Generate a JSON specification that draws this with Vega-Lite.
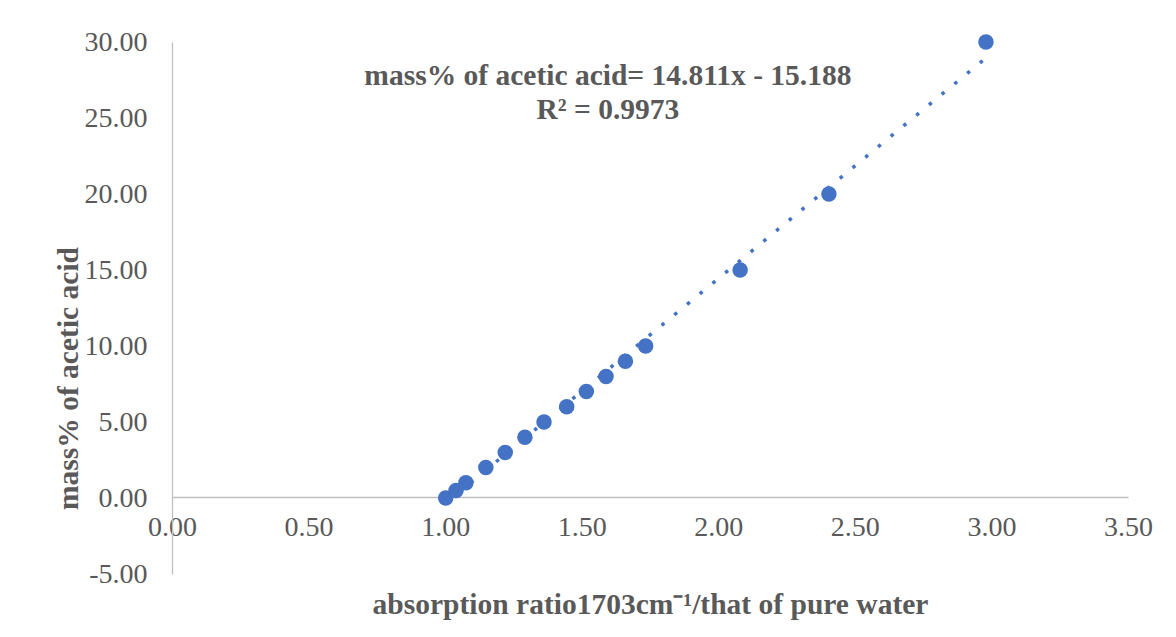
{
  "$schema": "https://vega.github.io/schema/vega-lite/v6.json",
  "width": 956,
  "height": 532,
  "autosize": {"type": "none"},
  "padding": {"left": 172, "top": 42, "right": 48, "bottom": 63},
  "background": "white",
  "config": {
    "view": {"stroke": null},
    "font": "Liberation Serif",
    "axis": {
      "labelFont": "Liberation Serif",
      "labelFontSize": 28,
      "labelColor": "#595959",
      "titleFont": "Liberation Serif",
      "titleFontSize": 29.5,
      "titleFontWeight": "bold",
      "titleColor": "#595959",
      "domainColor": "#bfbfbf",
      "domainWidth": 1.3,
      "ticks": false,
      "grid": false
    }
  },
  "data": {
    "values": [
      {"ratio": 1.002, "mass": 0},
      {"ratio": 1.040, "mass": 0.5},
      {"ratio": 1.076, "mass": 1},
      {"ratio": 1.149, "mass": 2},
      {"ratio": 1.220, "mass": 3},
      {"ratio": 1.292, "mass": 4},
      {"ratio": 1.362, "mass": 5},
      {"ratio": 1.445, "mass": 6},
      {"ratio": 1.517, "mass": 7},
      {"ratio": 1.589, "mass": 8},
      {"ratio": 1.660, "mass": 9},
      {"ratio": 1.734, "mass": 10},
      {"ratio": 2.080, "mass": 15},
      {"ratio": 2.405, "mass": 20},
      {"ratio": 2.980, "mass": 30}
    ]
  },
  "layer": [
    {
      "mark": {"type": "point", "filled": true, "shape": "circle", "size": 240, "color": "#4472C4", "opacity": 1},
      "encoding": {
        "x": {
          "field": "ratio", "type": "quantitative",
          "scale": {"domain": [0, 3.5], "nice": false, "zero": false},
          "axis": {
            "values": [0, 0.5, 1, 1.5, 2, 2.5, 3, 3.5],
            "format": ".2f",
            "offset": -77,
            "labelPadding": 16,
            "labelFlush": false,
            "labelOverlap": false,
            "title": "absorption ratio1703cm⁻¹/that of pure water",
            "titlePadding": 49
          }
        },
        "y": {
          "field": "mass", "type": "quantitative",
          "scale": {"domain": [-5, 30], "nice": false, "zero": false},
          "axis": {
            "values": [-5, 0, 5, 10, 15, 20, 25, 30],
            "format": ".2f",
            "labelExpr": "replace(datum.label, '\u2212', '-')",
            "labelPadding": 25,
            "labelFlush": false,
            "labelOverlap": false,
            "title": "mass% of acetic acid",
            "titleX": -104,
            "titleY": 336,
            "titleAngle": 270,
            "titleAlign": "center",
            "titleBaseline": "middle"
          }
        }
      }
    },
    {
      "data": {"values": [{"ratio": 1.0, "fit": -0.377}, {"ratio": 2.98, "fit": 28.949}]},
      "mark": {"type": "line", "color": "#4472C4", "strokeWidth": 3.5, "strokeDash": [3.5, 13]},
      "encoding": {
        "x": {"field": "ratio", "type": "quantitative"},
        "y": {"field": "fit", "type": "quantitative"}
      }
    },
    {
      "data": {"values": [{"note": "trendline"}]},
      "mark": {"type": "text", "font": "Liberation Serif", "fontSize": 29.5, "fontWeight": "bold", "color": "#595959", "align": "center", "baseline": "alphabetic", "lineHeight": 34},
      "encoding": {
        "x": {"datum": 1.596, "type": "quantitative"},
        "y": {"datum": 27.2, "type": "quantitative"},
        "text": {"value": ["mass% of acetic acid= 14.811x - 15.188", "R² = 0.9973"]}
      }
    }
  ]
}
